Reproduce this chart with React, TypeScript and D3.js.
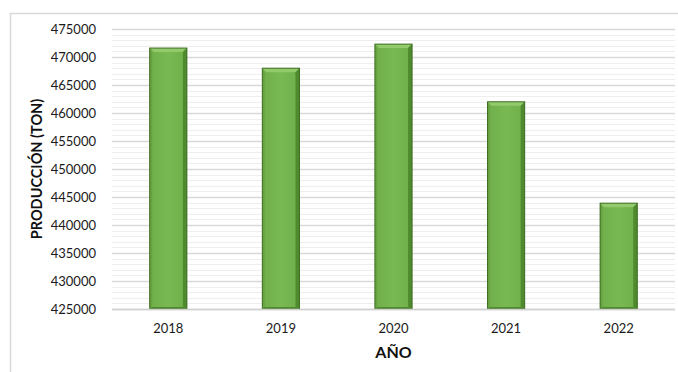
import React from "react";
import * as d3 from "d3";

const years = ["2018", "2019", "2020", "2021", "2022"];
const produccion = [471600, 468000, 472300, 462000, 443900];
const yTicks = [425000, 430000, 435000, 440000, 445000, 450000, 455000, 460000, 465000, 470000, 475000];
const yTitle = "PRODUCCIÓN (TON)";
const xTitle = "AÑO";

const W = 678;
const H = 372;
const M = { left: 112, right: 3, top: 29, bottom: 63 };

export default function App() {
  const x = d3.scaleBand().domain(years).range([M.left, W - M.right]).paddingInner(0.67).paddingOuter(0.335);
  const y = d3.scaleLinear().domain([425000, 475000]).range([H - M.bottom, M.top]);
  const minor = d3.range(425000, 475001, 1000).filter((v) => v % 5000 !== 0);
  const font = "Lato, 'Open Sans', sans-serif";
  const bw = x.bandwidth();
  const bev = 4;
  return (
    <div style={{ position: "absolute", left: 0, top: 0 }}>
      <svg width={W} height={H} style={{ display: "block" }}>
        <defs>
          <linearGradient id="barFace" x1="0" x2="1" y1="0" y2="0">
            <stop offset="0" stopColor="#6fae48" />
            <stop offset="0.5" stopColor="#79b954" />
            <stop offset="1" stopColor="#6fae48" />
          </linearGradient>
        </defs>
        <rect x={0} y={0} width={W} height={H} fill="#ffffff" />
        <rect x={10.5} y={13.5} width={W + 20} height={H + 20} fill="none" stroke="#d9d9d9" strokeWidth={1.5} />
        {minor.map((v) => (
          <line key={"m" + v} x1={M.left} x2={W - M.right} y1={Math.round(y(v)) + 0.5} y2={Math.round(y(v)) + 0.5} stroke="#eeeeee" strokeWidth={1} />
        ))}
        {yTicks.map((v) => (
          <line key={"g" + v} x1={M.left} x2={W - M.right} y1={Math.round(y(v)) + 0.5} y2={Math.round(y(v)) + 0.5} stroke="#d9d9d9" strokeWidth={1.3} />
        ))}
        {yTicks.map((v) => (
          <text key={"t" + v} x={96} y={y(v)} dy="0.35em" textAnchor="end" fontFamily={font} fontSize={13} fill="#1a1a1a">
            {v}
          </text>
        ))}
        {years.map((yr, i) => {
          const x0 = x(yr)!;
          const y0 = y(produccion[i]);
          const y1 = y(425000);
          return (
            <g key={yr}>
              <rect x={x0} y={y0} width={bw} height={y1 - y0} fill="url(#barFace)" />
              <polygon points={`${x0},${y0} ${x0 + bw},${y0} ${x0 + bw - bev},${y0 + bev} ${x0 + bev},${y0 + bev}`} fill="#92ca6c" />
              <polygon points={`${x0},${y0} ${x0 + bev * 0.6},${y0 + bev} ${x0 + bev * 0.6},${y1 - 2} ${x0},${y1}`} fill="#68a342" />
              <polygon points={`${x0 + bw},${y0} ${x0 + bw - bev},${y0 + bev} ${x0 + bw - bev},${y1 - 2} ${x0 + bw},${y1}`} fill="#4f8a2e" />
              <polygon points={`${x0},${y1} ${x0 + bev * 0.6},${y1 - 2} ${x0 + bw - bev},${y1 - 2} ${x0 + bw},${y1}`} fill="#4f8a2e" />
              <rect x={x0} y={y0} width={bw} height={y1 - y0} fill="none" stroke="#3f6e25" strokeWidth={1} />
            </g>
          );
        })}
        <line x1={M.left} x2={W - M.right} y1={Math.round(y(425000)) + 0.5} y2={Math.round(y(425000)) + 0.5} stroke="#d0d0d0" strokeWidth={1.5} />
        {years.map((yr) => (
          <text key={"x" + yr} x={x(yr)! + bw / 2} y={333} textAnchor="middle" fontFamily={font} fontSize={13} fill="#1a1a1a">
            {yr}
          </text>
        ))}
        <text x={(M.left + W - M.right) / 2} y={358} textAnchor="middle" fontFamily={font} fontSize={16} fontWeight="bold" fill="#111">
          {xTitle}
        </text>
        <text transform={`translate(42,${(M.top + H - M.bottom) / 2}) rotate(-90)`} textAnchor="middle" fontFamily={font} fontSize={14.5} fontWeight="bold" fill="#111">
          {yTitle}
        </text>
      </svg>
    </div>
  );
}
